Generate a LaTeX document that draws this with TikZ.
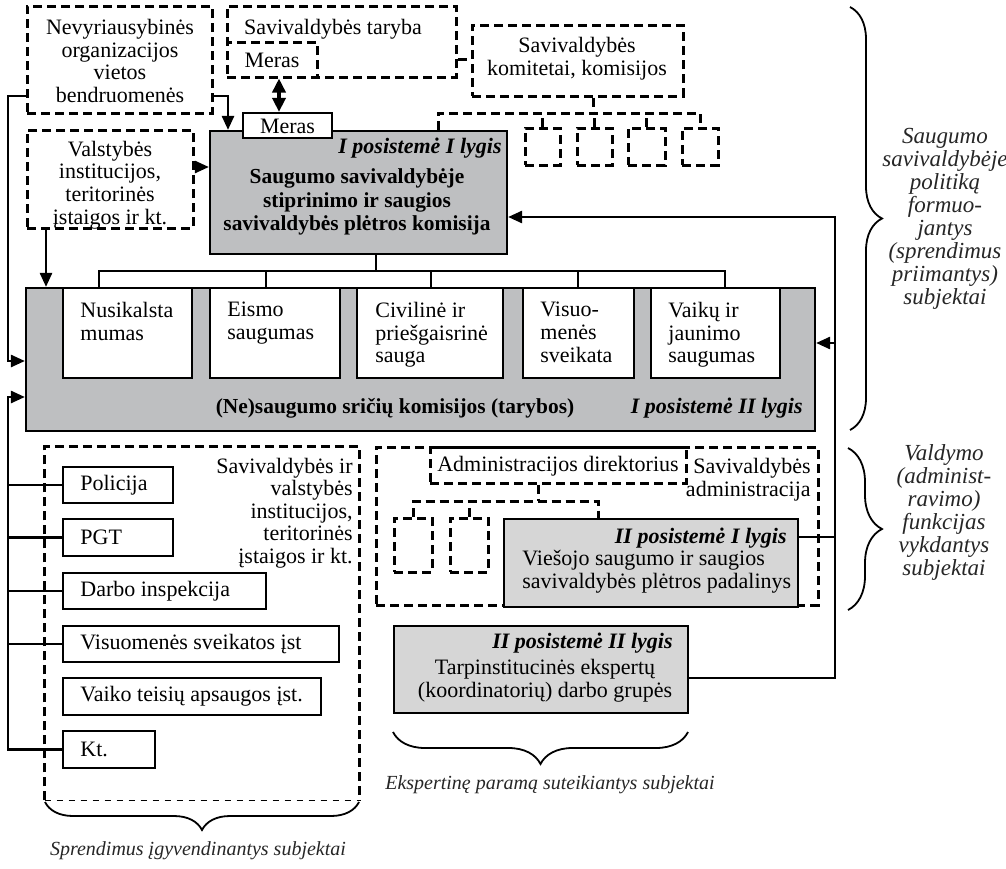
\documentclass[tikz,border=0pt]{standalone}
\usepackage{fontspec}
\setmainfont{Liberation Serif}
\usetikzlibrary{arrows.meta,fit,decorations.pathreplacing}
\definecolor{gA}{RGB}{190,191,193}
\definecolor{gB}{RGB}{214,214,214}
\begin{document}
\begin{tikzpicture}[x=0.5pt,y=-0.5pt,
  every node/.style={inner sep=0pt},
  txt/.style={font=\fontsize{11}{11.3}\selectfont},
  btxt/.style={font=\fontsize{10.7}{11.6}\selectfont\bfseries},
  bitxt/.style={font=\fontsize{11}{11.3}\selectfont\bfseries\itshape},
  itxt/.style={font=\fontsize{11.5}{11.5}\selectfont\itshape, text=black!85},
  sitxt/.style={font=\fontsize{10}{11}\selectfont\itshape, text=black!85},
  sbox/.style={draw, line width=1.1pt, inner sep=0pt},
  dbox/.style={draw, line width=1.5pt, dash pattern=on 4.5pt off 2.5pt, inner sep=0pt},
  dline/.style={line width=1.5pt, dash pattern=on 4.5pt off 2.5pt},
  sline/.style={line width=1.1pt},
  arr/.style={line width=1.3pt, -{Triangle[length=7pt,width=6pt]}},
  darr/.style={line width=1.8pt, {Triangle[length=7pt,width=6.5pt]}-{Triangle[length=7pt,width=6.5pt]}},
  brc/.style={decorate, line width=0.9pt, decoration={brace, amplitude=#1}}
]
\useasboundingbox (0,0) rectangle (1006,868);

% ---------- top row ----------
\node[dbox, fit={(27,6) (212,113)}] (nevyr) {};
\node[txt, align=center] (nevyrT) at (120,61) {Nevyriausybinės\\organizacijos\\vietos\\bendruomenės};

\node[dbox, fit={(227,6) (456,77)}] (taryba) {};
\node[txt] (tarybaT) at (333,29) {Savivaldybės taryba};
\node[dbox, fit={(227,42) (317,77)}] (merasA) {};
\node[txt] (merasAT) at (272,60) {Meras};

\node[dbox, fit={(472,25) (683,96)}] (komit) {};
\node[txt, align=center] (komitT) at (577,59) {Savivaldybės\\komitetai, komisijos};

\node[dbox, fit={(525,128) (560,165)}] (k1) {};
\node[dbox, fit={(577,128) (612,165)}] (k2) {};
\node[dbox, fit={(628,128) (665,165)}] (k3) {};
\node[dbox, fit={(682,128) (718,165)}] (k4) {};

\node[dbox, fit={(27,130) (193,228)}] (valst) {};
\node[txt, align=center] (valstT) at (110,185) {Valstybės\\institucijos,\\teritorinės\\įstaigos ir kt.};

% ---------- main commission ----------
\node[sbox, fill=gA, fit={(210,131) (507,254)}] (main) {};
\node[sbox, fill=white, fit={(243,113) (332,138)}] (merasB) {};
\node[txt] (merasBT) at (287.5,126) {Meras};
\node[bitxt, anchor=east] (mainL) at (502,148) {I posistemė I lygis};
\node[btxt, align=center] (mainT) at (357,202) {Saugumo savivaldybėje\\stiprinimo ir saugios\\savivaldybės plėtros komisija};

% ---------- (Ne)saugumo block ----------
\node[sbox, fill=gA, fit={(26,288) (815,431)}] (ne) {};
\node[sbox, fill=white, fit={(63,288) (192,378)}] (b1) {};
\node[sbox, fill=white, fit={(210,288) (340,378)}] (b2) {};
\node[sbox, fill=white, fit={(357,288) (503,378)}] (b3) {};
\node[sbox, fill=white, fit={(523,288) (634,378)}] (b4) {};
\node[sbox, fill=white, fit={(651,288) (780,378)}] (b5) {};
\node[txt, align=left, anchor=north west] (b1T) at (80,302) {Nusikalsta\\mumas};
\node[txt, align=left, anchor=north west] (b2T) at (227,302) {Eismo\\saugumas};
\node[txt, align=left, anchor=north west] (b3T) at (375,302) {Civilinė ir\\priešgaisrinė\\sauga};
\node[txt, align=left, anchor=north west] (b4T) at (540,302) {Visuo-\\menės\\sveikata};
\node[txt, align=left, anchor=north west] (b5T) at (668,302) {Vaikų ir\\jaunimo\\saugumas};
\node[btxt] (neT) at (395,408) {(Ne)saugumo sričių komisijos (tarybos)};
\node[bitxt, anchor=east] (neL) at (803,408) {I posistemė II lygis};

% ---------- implementing institutions ----------
\node[fit={(45,447) (359,800)}] (sav) {};
\node[txt, align=right, anchor=east] (savT) at (353,513) {Savivaldybės ir\\valstybės\\institucijos,\\teritorinės\\įstaigos ir kt.};
\node[sbox, fit={(63,467) (173,503)}] (pol) {};
\node[sbox, fit={(63,519) (173,556)}] (pgt) {};
\node[sbox, fit={(63,573) (266,609)}] (darbo) {};
\node[sbox, fit={(63,626) (339,662)}] (visu) {};
\node[sbox, fit={(63,678) (321,715)}] (vaiko) {};
\node[sbox, fit={(63,731) (155,768)}] (kt) {};
\node[txt, anchor=west] (polT) at (80,485) {Policija};
\node[txt, anchor=west] (pgtT) at (80,537.5) {PGT};
\node[txt, anchor=west] (darboT) at (80,591) {Darbo inspekcija};
\node[txt, anchor=west] (visuT) at (80,644) {Visuomenės sveikatos įst};
\node[txt, anchor=west] (vaikoT) at (80,696.5) {Vaiko teisių apsaugos įst.};
\node[txt, anchor=west] (ktT) at (80,749.5) {Kt.};

% ---------- administration ----------
\node[dbox, fit={(376,447) (818,605)}] (adm) {};
\node[dbox, fit={(430,447) (686,483)}] (dir) {};
\node[txt] (dirT) at (558,466) {Administracijos direktorius};
\node[txt, align=right, anchor=east] (admT) at (811,480) {Savivaldybės\\administracija};
\node[dbox, fit={(394,518) (432,572)}] (s1) {};
\node[dbox, fit={(450,518) (488,572)}] (s2) {};
\node[sbox, fill=gB, fit={(504,519) (798,607)}] (pad) {};
\node[bitxt, anchor=east] (padL) at (787,538) {II posistemė I lygis};
\node[txt, align=left, anchor=west] (padT) at (522,572) {Viešojo saugumo ir saugios\\savivaldybės plėtros padalinys};

\node[sbox, fill=gB, fit={(394,626) (688,713)}] (tarp) {};
\node[bitxt, anchor=east] (tarpL) at (673,643) {II posistemė II lygis};
\node[txt, align=center] (tarpT) at (545,681) {Tarpinstitucinės ekspertų\\(koordinatorių) darbo grupės};

% ---------- connectors ----------
\draw[dline] (taryba.east |- merasA.east) -- (komit.west |- merasA.east);
\draw[dline] (komit.south -| 593,0) -- (593,113);
\draw[dline] (main.north -| 438,0) |- (700,113) -- (k4.north);
\draw[dline] (k1.north) -- (k1.north |- 0,113);
\draw[dline] (k2.north) -- (k2.north |- 0,113);
\draw[dline] (k3.north) -- (k3.north |- 0,113);

\draw[darr] (merasA.south -| 279,0) -- (merasB.north -| 279,0);
\draw[arr] (nevyr.east |- 0,96) -| (main.north -| 228,0);
\draw[arr] (valst.east |- 0,167) -- (main.west |- 0,167);
\draw[arr] (valst.south -| 46,0) -- (ne.north -| 46,0);

\draw[sline] (main.south -| 376,0) -- (376,271);
\draw[sline] (b1.north -| 99,0) |- (725,271) -- (b5.north -| 725,0);
\draw[sline] (b2.north -| 266,0) -- (266,271);
\draw[sline] (b3.north -| 431,0) -- (431,271);
\draw[sline] (b4.north -| 578,0) -- (578,271);

\draw[arr] (nevyr.west |- 0,96) -- (8,96) -- (8,361) -- (ne.west |- 0,361);
\draw[arr] (kt.west) -| (8,397) -- (ne.west |- 0,397);
\draw[sline] (pol.west) -- (pol.west -| 8,0);
\draw[sline] (pgt.west) -- (pgt.west -| 8,0);
\draw[sline] (darbo.west) -- (darbo.west -| 8,0);
\draw[sline] (visu.west) -- (visu.west -| 8,0);

\draw[arr] (tarp.east |- 0,678) -| (835,217) -- (main.east |- 0,217);
\draw[sline] (pad.east |- 0,537) -- (835,537);
\draw[arr] (835,343) -- (ne.east |- 0,343);

\draw[dline] (sav.south west) -- (sav.north west) -- (sav.north east) -- (sav.south east);
\draw[dashed, line width=0.6pt] (sav.south west) -- (sav.south east);

\draw[dline] (dir.south -| 538,0) -- (538,501);
\draw[dline] (s1.north) |- (598,501) -- (pad.north -| 598,0);
\draw[dline] (s2.north) -- (s2.north |- 0,501);

% ---------- braces ----------
\draw[brc=16pt] (850,7) -- (850,430);
\node[itxt, align=center] (brT1) at (945,219) {Saugumo\\savivaldybėje\\politiką\\formuo-\\jantys\\(sprendimus\\priimantys)\\subjektai};
\draw[brc=17pt] (848,448) -- (848,610);
\node[itxt, align=center] (brT2) at (944,512) {Valdymo\\(administ-\\ravimo)\\funkcijas\\vykdantys\\subjektai};
\draw[brc=14pt] (359,802) -- (45,802);
\node[sitxt] (brT3) at (198,851) {Sprendimus įgyvendinantys subjektai};
\draw[brc=16pt] (688,732) -- (393,732);
\node[sitxt] (brT4) at (550,785) {Ekspertinę paramą suteikiantys subjektai};
\end{tikzpicture}
\end{document}
